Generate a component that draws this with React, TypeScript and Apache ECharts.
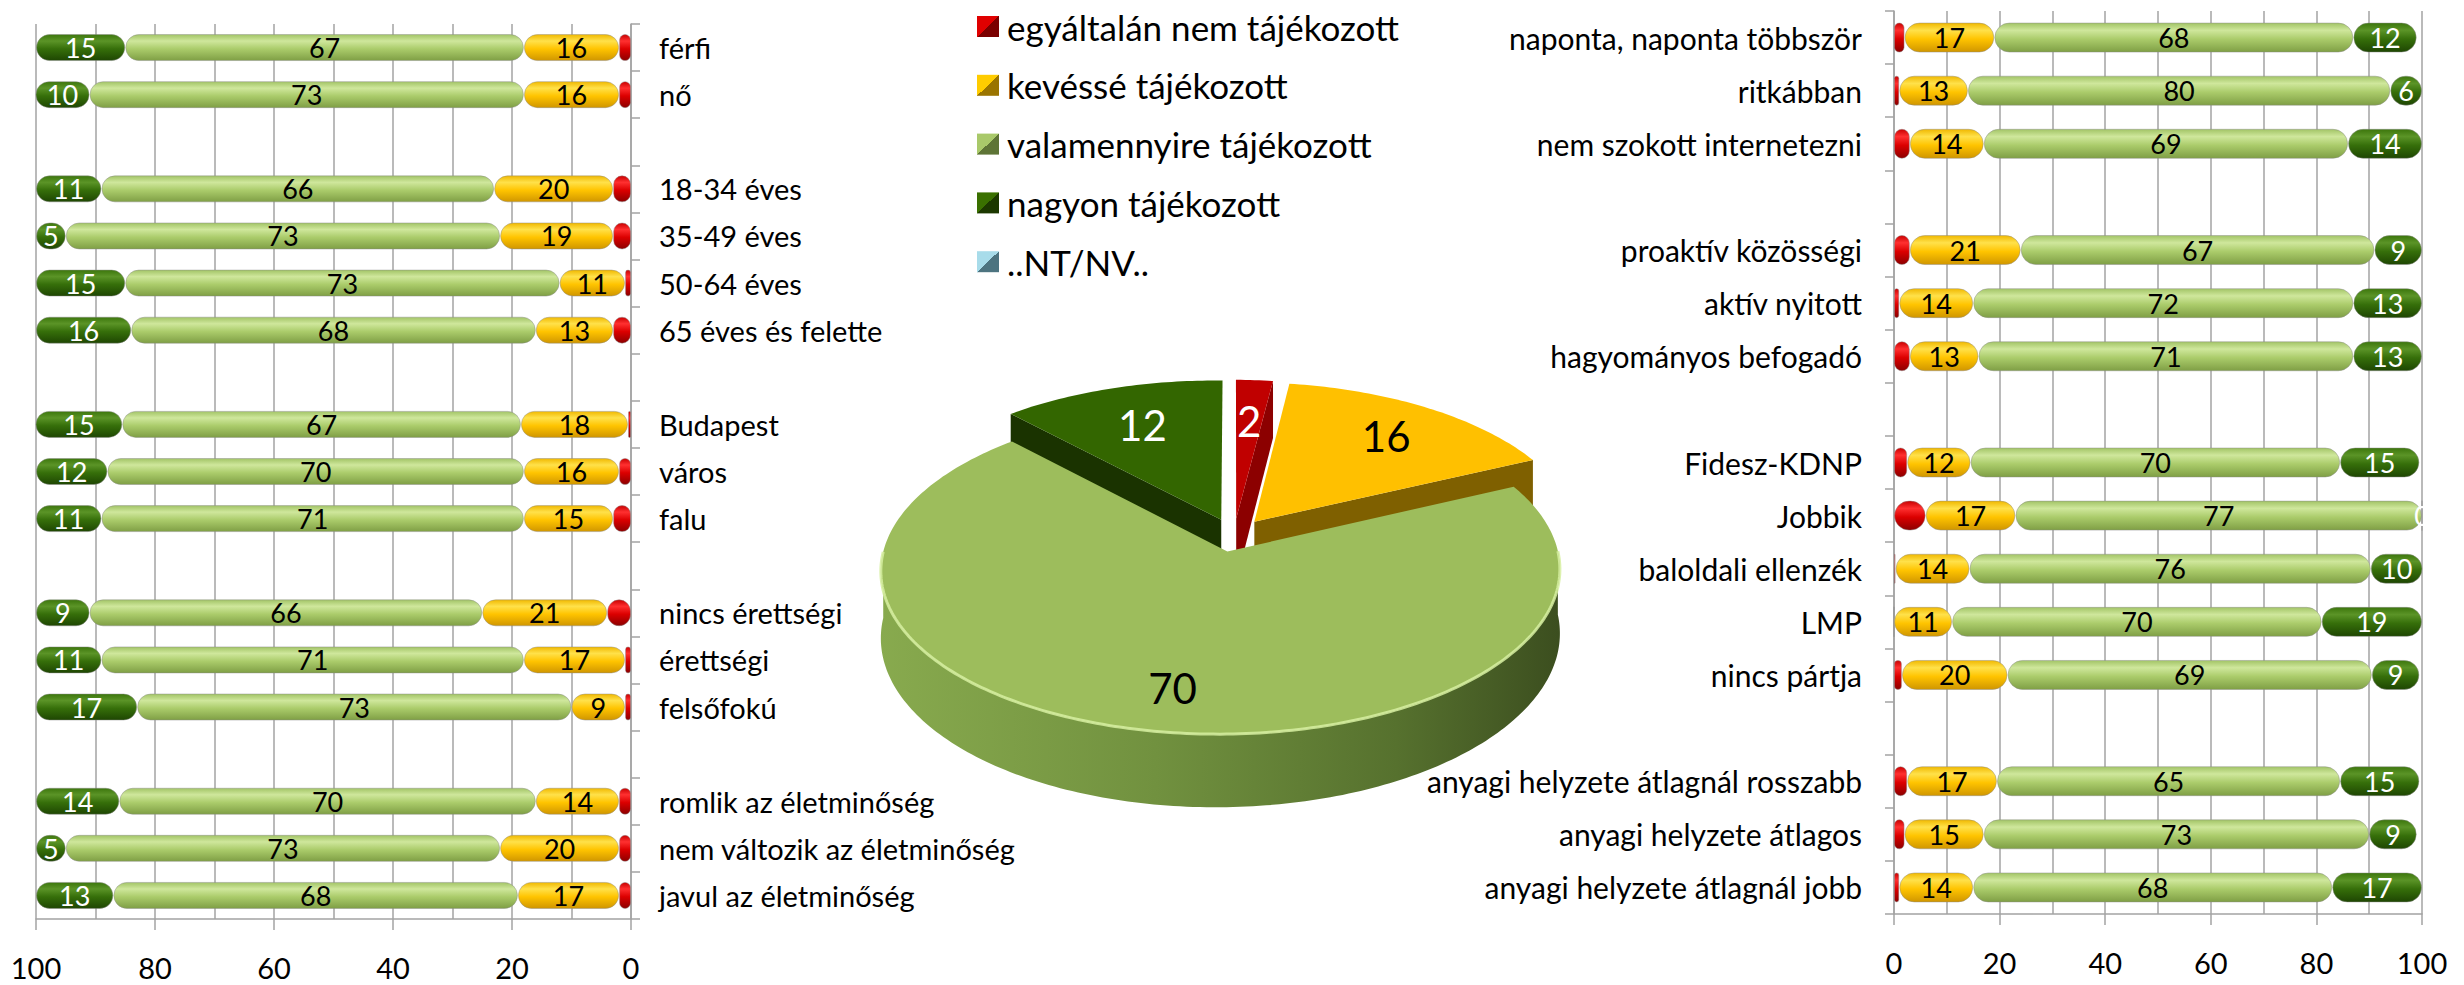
import React, { useEffect, useRef } from 'react';
import * as echarts from 'echarts';

const FONT = 'Lato, "Open Sans", "Noto Sans", sans-serif';

const legendNames = [
  'egyáltalán nem tájékozott',
  'kevéssé tájékozott',
  'valamennyire tájékozott',
  'nagyon tájékozott',
  '..NT/NV..',
];

// ---- left bar chart (axis 100 -> 0) ----
const leftCategories = [
  'férfi', 'nő', ' ',
  '18-34 éves', '35-49 éves', '50-64 éves', '65 éves és felette', '  ',
  'Budapest', 'város', 'falu', '   ',
  'nincs érettségi', 'érettségi', 'felsőfokú', '    ',
  'romlik az életminőség', 'nem változik az életminőség', 'javul az életminőség',
];
const leftRed = [2, 2, null, 3, 3, 1, 3, null, 0.5, 2, 3, null, 4, 1, 1, null, 2, 2, 2];
const leftYellow = [16, 16, null, 20, 19, 11, 13, null, 18, 16, 15, null, 21, 17, 9, null, 14, 20, 17];
const leftLight = [67, 73, null, 66, 73, 73, 68, null, 67, 70, 71, null, 66, 71, 73, null, 70, 73, 68];
const leftDark = [15, 10, null, 11, 5, 15, 16, null, 15, 12, 11, null, 9, 11, 17, null, 14, 5, 13];

// ---- right bar chart (axis 0 -> 100) ----
const rightCategories = [
  'naponta, naponta többször', 'ritkábban', 'nem szokott internetezni', ' ',
  'proaktív közösségi', 'aktív nyitott', 'hagyományos befogadó', '  ',
  'Fidesz-KDNP', 'Jobbik', 'baloldali ellenzék', 'LMP', 'nincs pártja', '   ',
  'anyagi helyzete átlagnál rosszabb', 'anyagi helyzete átlagos', 'anyagi helyzete átlagnál jobb',
];
const rightRed = [2, 1, 3, null, 3, 1, 3, null, 2.5, 6, 0.3, 0, 1.5, null, 2.5, 2, 1];
const rightYellow = [17, 13, 14, null, 21, 14, 13, null, 12, 17, 14, 11, 20, null, 17, 15, 14];
const rightLight = [68, 80, 69, null, 67, 72, 71, null, 70, 77, 76, 70, 69, null, 65, 73, 68];
const rightDark = [12, 6, 14, null, 9, 13, 13, null, 15, 0, 10, 19, 9, null, 15, 9, 17];

// ---- pie (total) ----
const pieNames = legendNames.slice(0, 4);
const pieValues = [2, 16, 70, 12];

// ---- styles ----
const vgrad = (stops: [number, string][]) => ({
  type: 'linear', x: 0, y: 0, x2: 0, y2: 1,
  colorStops: stops.map(([offset, color]) => ({ offset, color })),
});
const diag = (a: string, b: string) => ({
  type: 'linear', x: 0, y: 0, x2: 1, y2: 1,
  colorStops: [
    { offset: 0, color: a }, { offset: 0.5, color: a },
    { offset: 0.5, color: b }, { offset: 1, color: b },
  ],
});

const barFills = [
  vgrad([[0, '#c80000'], [0.25, '#ff3030'], [0.55, '#dc0000'], [1, '#8c0000']]),
  vgrad([[0, '#f0b800'], [0.25, '#ffe14a'], [0.55, '#ffc400'], [1, '#d09600']]),
  vgrad([[0, '#a2c466'], [0.25, '#cfe79c'], [0.55, '#abcc6b'], [1, '#7f9f45']]),
  vgrad([[0, '#3c760c'], [0.25, '#5b9427'], [0.55, '#366f0a'], [1, '#1e4602']]),
];
const labelColors = ['#000', '#000', '#000', '#fff'];
const legendIcons = [
  diag('#e00000', '#7a0000'),
  diag('#ffcc00', '#9a7400'),
  diag('#a9c96a', '#5e7436'),
  diag('#3a7000', '#1c3800'),
  diag('#a8dcea', '#4d7480'),
];

// pie geometry (pseudo-3D projection)
const PIE = { bx: 1234, by: 535, rx: 333, ry: 158, h: 64, k: 0.1125, kx: 0.02, explode: 0.105 };
const pieTop = ['#c00000', '#ffc000', '#9dbd5c', '#336600'];
const pieSide = ['#8c0000', '#7f6000', '#6d8c3c', '#1a3300'];
const pieLabelColor = ['#fff', '#000', '#000', '#fff'];
const pieLabelDist = [0.68, 0.74, 0.78, 0.7];
const pieTotal = pieValues.reduce((a, b) => a + b, 0);
const pieStarts = pieValues.map((_, i) => pieValues.slice(0, i).reduce((a, b) => a + b, 0));

function proj(u: number, v: number, z: number): number[] {
  const w = 1 / (1 - PIE.k * v + PIE.kx * u);
  return [PIE.bx + PIE.rx * u * w, PIE.by + PIE.ry * v * w + PIE.h * z * w];
}

const lightWall = {
  type: 'linear', x: 880, y: 0, x2: 1570, y2: 0, global: true,
  colorStops: [
    { offset: 0, color: '#88aa4e' }, { offset: 0.4, color: '#71913f' },
    { offset: 0.75, color: '#56712e' }, { offset: 1, color: '#3a4c1e' },
  ],
};

function renderPieSlice(params: any, api: any) {
  const i = params.dataIndex;
  const val = api.value(0);
  const D = Math.PI / 180;
  const s = (pieStarts[i] / pieTotal) * 360 * D;
  const e = s + (val / pieTotal) * 360 * D;
  const m = (s + e) / 2;
  const ou = PIE.explode * Math.sin(m);
  const ov = -PIE.explode * Math.cos(m);
  const P = (t: number, z: number) => proj(ou + Math.sin(t), ov - Math.cos(t), z);
  const A = (z: number) => proj(ou, ov, z);
  const arc = (t0: number, t1: number, z: number) => {
    const n = Math.max(2, Math.ceil((t1 - t0) / D));
    const pts: number[][] = [];
    for (let j = 0; j <= n; j++) pts.push(P(t0 + ((t1 - t0) * j) / n, z));
    return pts;
  };
  const base = Math.round((ov + 1) * 10);
  const children: any[] = [];
  if (Math.sin(s) < -1e-6) {
    children.push({ type: 'polygon', z2: base, shape: { points: [A(0), P(s, 0), P(s, 1), A(1)] }, style: { fill: pieSide[i] } });
  }
  if (Math.sin(e) > 1e-6) {
    children.push({ type: 'polygon', z2: base, shape: { points: [A(0), P(e, 0), P(e, 1), A(1)] }, style: { fill: pieSide[i] } });
  }
  const w0 = Math.max(s, 90 * D);
  const w1 = Math.min(e, 270 * D);
  if (w1 > w0) {
    const pts = arc(w0, w1, 0).concat(arc(w0, w1, 1).reverse());
    children.push({ type: 'polygon', z2: base, shape: { points: pts }, style: { fill: i === 2 ? lightWall : pieSide[i] } });
  }
  children.push({
    type: 'polygon', z2: base + 1,
    shape: { points: [A(0)].concat(arc(s, e, 0)) },
    style: { fill: pieTop[i] },
  });
  if (w1 > w0 && i === 2) {
    children.push({
      type: 'polyline', z2: base + 2,
      shape: { points: arc(w0, w1, 0) },
      style: { stroke: 'rgba(214,238,160,0.85)', lineWidth: 3, fill: 'none' },
    });
  }
  const f = pieLabelDist[i];
  const lp = proj(ou + f * Math.sin(m), ov - f * Math.cos(m), 0);
  children.push({
    type: 'text', z2: 100, x: lp[0], y: lp[1],
    style: {
      text: String(val), fill: pieLabelColor[i], fontSize: 42, fontFamily: FONT,
      align: 'center', verticalAlign: 'middle', textAlign: 'center', textVerticalAlign: 'middle',
    },
  });
  return { type: 'group', children };
}

function barSeries(stack: string, xi: number, arrays: (number | null)[][], barWidth: number) {
  return arrays.map((data, k) => ({
    type: 'bar',
    name: legendNames[k],
    stack,
    xAxisIndex: xi,
    yAxisIndex: xi,
    data,
    barWidth,
    itemStyle: {
      color: barFills[k],
      borderRadius: barWidth / 2,
      borderColor: 'rgba(140,140,140,0.45)',
      borderWidth: 1,
    },
    label: {
      show: k > 0,
      position: 'inside',
      color: labelColors[k],
      fontSize: 27,
      fontFamily: FONT,
      formatter: (p: any) => (p.value == null ? '' : String(Math.round(p.value))),
    },
  }));
}

const grayLine = { color: '#a3a3a3', width: 1.5 };

function valueAxis(gridIndex: number, inverse: boolean) {
  return {
    type: 'value', gridIndex, min: 0, max: 100, interval: 20, inverse,
    axisLine: { show: true, lineStyle: grayLine },
    axisTick: { show: true, length: 11, lineStyle: grayLine },
    axisLabel: { margin: 34, fontSize: 29, color: '#000', fontFamily: FONT },
    splitLine: { show: true, lineStyle: grayLine },
    minorTick: { show: false, splitNumber: 2 },
    minorSplitLine: { show: true, lineStyle: grayLine },
  };
}

function catAxis(gridIndex: number, data: string[], position: string, margin: number, fontSize: number) {
  return {
    type: 'category', gridIndex, data, position, inverse: true,
    axisLine: { show: true, lineStyle: grayLine },
    axisTick: { show: true, length: 9, interval: 0, lineStyle: grayLine },
    axisLabel: {
      interval: 0, margin, fontSize, color: '#000', fontFamily: FONT,
      align: position === 'right' ? 'left' : 'right',
    },
    splitLine: { show: false },
  };
}

export default function App() {
  const ref = useRef<HTMLDivElement>(null);
  useEffect(() => {
    if (!ref.current) return;
    const chart = echarts.init(ref.current, undefined, { renderer: 'svg' });
    const option: any = {
      animation: false,
      backgroundColor: '#fff',
      textStyle: { fontFamily: FONT },
      legend: {
        orient: 'vertical',
        left: 972,
        top: 4,
        itemWidth: 22,
        itemHeight: 21,
        itemGap: 23.8,
        selectedMode: false,
        textStyle: { fontSize: 35, lineHeight: 35, color: '#000', fontFamily: FONT, padding: [0, 0, 0, 3] },
        data: legendNames.map((name, k) => ({ name, icon: 'rect', itemStyle: { color: legendIcons[k], borderWidth: 0 } })),
      },
      grid: [
        { left: 36, top: 24, width: 595, height: 895, containLabel: false },
        { left: 1894, top: 11, width: 528, height: 903, containLabel: false },
      ],
      xAxis: [valueAxis(0, true), valueAxis(1, false)],
      yAxis: [
        catAxis(0, leftCategories, 'right', 28, 29),
        catAxis(1, rightCategories, 'left', 32, 30),
      ],
      series: [
        ...barSeries('L', 0, [leftRed, leftYellow, leftLight, leftDark], 27),
        ...barSeries('R', 1, [rightRed, rightYellow, rightLight, rightDark], 30),
        { type: 'bar', name: legendNames[4], stack: 'L', xAxisIndex: 0, yAxisIndex: 0, data: [] },
        {
          type: 'custom',
          name: 'összesen',
          coordinateSystem: 'none',
          data: pieValues.map((value, i) => ({ name: pieNames[i], value })),
          renderItem: renderPieSlice,
          silent: true,
        },
      ],
    };
    chart.setOption(option);
    return () => chart.dispose();
  }, []);
  return (
    <div
      ref={ref}
      style={{ position: 'absolute', left: 0, top: 0, width: 2464, height: 985 }}
    />
  );
}
